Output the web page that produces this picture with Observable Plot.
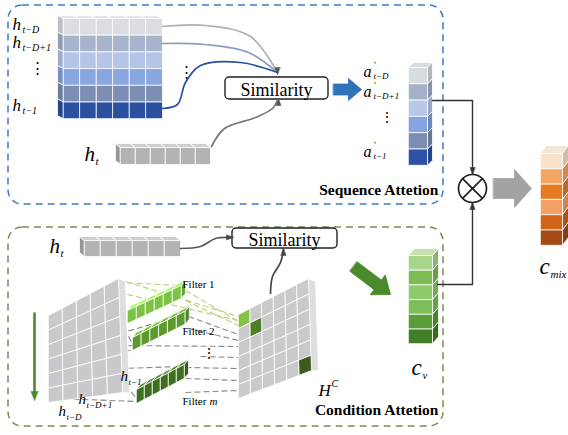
<!DOCTYPE html>
<html><head><meta charset="utf-8">
<script src="https://cdn.jsdelivr.net/npm/d3@7"></script>
<script src="https://cdn.jsdelivr.net/npm/@observablehq/plot@0.6"></script>
<style>
body{margin:0;background:#fff}
#chart{position:relative;width:568px;height:435px}
#chart svg{position:absolute;left:0;top:0}
</style>
</head><body><div id="chart"></div>
<script>
// ---- data ----
const seqRowColors = ["#dadde2","#a8b4cc","#b4c5e8","#88a6df","#7c8fb3","#2c50a0"];
const attnColors   = ["#d8dce0","#a4b0c8","#b8c8ea","#86a5e0","#7a8db2","#2d52a3"];
const condColors   = ["#a9d58b","#7cbd55","#8ec96c","#7cbf58","#5a9c36","#437e28"];
const mixColors    = ["#fae1cc","#f3a565","#e97a24","#f2a066","#d2641a","#a44a14"];
const filterColors = ["#7cc244","#5d9a2e","#3e6e20"];
const hcHighlights = ["#86c34a","#4f7f25","#3f5a1f"];
const seqSubs  = ["t−D","t−D+1","t−1"];
const attnSubs = ["t−D","t−D+1","t−1"];
const slabSubs = ["t−1","t−D+1","t−D"];
const filterNames = ["Filter 1","Filter 2","Filter"];
const titles = ["Sequence Attetion","Condition Attetion"];
const simLabel = "Similarity";

// ---- geometry helpers ----
const polys = [];
let pid = 0;
function P(pts, fill, stroke = "#ffffff") { polys.push({id: pid++, pts, fill, stroke}); }
const dk = (c, k = 0.6) => d3.color(c).darker(k).formatHex();
const lt = (c, k = 0.5) => d3.color(c).brighter(k).formatHex();

function column(x0, y0, w, h, colors, dx, dy, topFill) {
  P([[x0,y0],[x0+w,y0],[x0+w+dx,y0+dy],[x0+dx,y0+dy]], topFill || lt(colors[0],0.3));
  colors.forEach((c,i) => {
    const a = y0+i*h, b = a+h;
    const sx = dx > 0 ? x0+w : x0;
    P([[sx,a],[sx+dx,a+dy],[sx+dx,b+dy],[sx,b]], dk(c,0.5));
    P([[x0,a],[x0+w,a],[x0+w,b],[x0,b]], c);
  });
}
function matrix(x0, y0, cw, ch, ncol, colors, dx, dy) {
  for (let j=0;j<ncol;j++) {
    const x = x0+j*cw;
    P([[x,y0],[x+cw,y0],[x+cw+dx,y0+dy],[x+dx,y0+dy]], "#e3e4e7");
  }
  colors.forEach((c,i) => {
    const a = y0+i*ch, b = a+ch;
    P([[x0,a],[x0+dx,a+dy],[x0+dx,b+dy],[x0,b]], dk(c,0.4));
    for (let j=0;j<ncol;j++) {
      const x = x0+j*cw;
      P([[x,a],[x+cw,a],[x+cw,b],[x,b]], c);
    }
  });
}
function hvector(x0, y0, w, h, n, fill, dx, dy) {
  P([[x0,y0],[x0+dx,y0+dy],[x0+dx,y0+h+dy],[x0,y0+h]], dk(fill,0.5));
  for (let i=0;i<n;i++) {
    const x = x0+i*w;
    P([[x,y0],[x+w,y0],[x+w+dx,y0+dy],[x+dx,y0+dy]], lt(fill,0.4));
    P([[x,y0],[x+w,y0],[x+w,y0+h],[x,y0+h]], fill);
  }
}
function bil(c, u, v) {
  const [TL,TR,BR,BL] = c;
  const tx = TL[0]+(TR[0]-TL[0])*u, ty = TL[1]+(TR[1]-TL[1])*u;
  const bx = BL[0]+(BR[0]-BL[0])*u, by = BL[1]+(BR[1]-BL[1])*u;
  return [tx+(bx-tx)*v, ty+(by-ty)*v];
}
function skewGrid(c, ncol, nrow, fillFn, sideOff, sideFill) {
  const [TL,TR,BR,BL] = c;
  P([TR,[TR[0]+sideOff[0],TR[1]+sideOff[1]],[BR[0]+sideOff[0],BR[1]+sideOff[1]*0.2],BR], sideFill);
  for (let i=0;i<nrow;i++) for (let j=0;j<ncol;j++) {
    P([bil(c,j/ncol,i/nrow),bil(c,(j+1)/ncol,i/nrow),bil(c,(j+1)/ncol,(i+1)/nrow),bil(c,j/ncol,(i+1)/nrow)], fillFn(i,j));
  }
}
function rod(x0, y0, sx, sy, h, n, fill) {
  const ox = 4, oy = -5;
  for (let i=0;i<n;i++) {
    const x = x0+i*sx, y = y0+i*sy;
    P([[x,y],[x+sx,y+sy],[x+sx+ox,y+sy+oy],[x+ox,y+oy]], lt(fill,0.7));
    P([[x,y],[x+sx,y+sy],[x+sx,y+sy+h],[x,y+h]], fill);
  }
  const ex = x0+n*sx, ey = y0+n*sy;
  P([[ex,ey],[ex+ox,ey+oy],[ex+ox,ey+oy+h],[ex,ey+h]], dk(fill,0.5));
}
function blockArrow(x0,y0,x1,y1,bw,hw,hl,fill) {
  const L = Math.hypot(x1-x0,y1-y0), ux=(x1-x0)/L, uy=(y1-y0)/L, nx=-uy, ny=ux;
  const nkx = x1-ux*hl, nky = y1-uy*hl;
  P([[x0+nx*bw/2,y0+ny*bw/2],[nkx+nx*bw/2,nky+ny*bw/2],[nkx+nx*hw/2,nky+ny*hw/2],[x1,y1],
     [nkx-nx*hw/2,nky-ny*hw/2],[nkx-nx*bw/2,nky-ny*bw/2],[x0-nx*bw/2,y0-ny*bw/2]], fill, fill);
}
const heads = [];
function head(x,y,ang,fill,len=7,wid=5) {
  const ux=Math.cos(ang), uy=Math.sin(ang), nx=-uy, ny=ux;
  const bx=x-ux*len, by=y-uy*len;
  heads.push({id: heads.length, fill, pts:[[x,y],[bx+nx*wid/2,by+ny*wid/2],[bx-nx*wid/2,by-ny*wid/2]]});
}

// ---- build shapes ----
matrix(63, 18, 16.5, 16.7, 6, seqRowColors, -6, -3);
hvector(120, 147, 15, 17, 6, "#b3b3b3", -5, -4);
column(408, 67, 19, 16.3, attnColors, 5, -5, "#d9dcdf");
column(540, 153, 22, 15.3, mixColors, 6, -8, "#f5e6da");
hvector(84, 240, 16, 16, 6, "#b3b3b3", -5, -4);
skewGrid([[48,315],[118,278],[122,392],[48,402]], 5, 6, () => "#c9c9cb", [7,3], "#dedee0");
rod(127, 310, 9, -4.2, 13, 6, filterColors[0]);
rod(132, 337, 8.8, -4.4, 13, 6, filterColors[1]);
rod(136, 389, 8, -4.2, 14, 6, filterColors[2]);
skewGrid([[238,314],[308,278],[311,370],[238,398]], 6, 6, (i,j) =>
  (i===0&&j===0) ? hcHighlights[0] : (i===1&&j===1) ? hcHighlights[1] : (i===5&&j===5) ? hcHighlights[2] : "#cacacd",
  [7,3], "#dedee0");
column(408, 255, 24, 14.7, condColors, 6, -7, "#c4e2ae");
blockArrow(333, 89, 361, 89, 11, 22, 13, "#2e73b8");
blockArrow(493, 188, 531, 188, 20, 38, 17, "#a3a3a3");
blockArrow(353, 266, 390, 294, 12, 25, 16, "#4a8a2a");

const polyRows = polys.flatMap(p => p.pts.map(([x,y]) => ({id:p.id, x, y, fill:p.fill, stroke:p.stroke})));

// ---- curves / connectors ----
const curves = [
  {id:"a", s:"#b0b0b0", pts:[[162,26],[205,25],[250,36],[277,72]]},
  {id:"b", s:"#8c9cc0", pts:[[162,43],[205,44],[248,52],[277,72]]},
  {id:"c", s:"#2b4fa0", pts:[[162,108],[177,104],[185,82],[200,65],[240,62],[277,72]]},
  {id:"d", s:"#777777", pts:[[211,146],[224,128],[255,117],[272,108],[277,100]]},
  {id:"e", s:"#555555", pts:[[180,248],[200,246],[215,238],[231,237]]},
  {id:"f", s:"#444444", pts:[[270,293],[272,276],[280,262],[283,249]]}
];
const curveRows = curves.flatMap(c => c.pts.map(([x,y]) => ({id:c.id, s:c.s, x, y})));
const conns = [
  {id:"t", pts:[[432,100],[472,100],[472,173]]},
  {id:"b", pts:[[437,284],[472,284],[472,203]]},
  {id:"g", pts:[[34,313],[34,395]]}
];
const connRows = conns.flatMap(c => c.pts.map(([x,y]) => ({id:c.id, x, y, s: c.id==="g" ? "#4a8a2a" : "#333333", w: c.id==="g" ? 2.6 : 1.4})));
head(277,74,Math.PI/2,"#555"); head(278,98,-Math.PI/2,"#555");
head(233,237,0,"#444"); head(283,248,-Math.PI/2,"#444");
head(472,174,Math.PI/2,"#333"); head(472,202,-Math.PI/2,"#333");
head(34,400,Math.PI/2,"#4a8a2a",9,7);
const headRows = heads.flatMap(h => h.pts.map(([x,y]) => ({id:h.id, x, y, fill:h.fill})));

// dashed filter connections
const dashes = [
  {c:"#bccd74", a:[118,282], b:[181,285]}, {c:"#bccd74", a:[119,300], b:[128,316]},
  {c:"#bccd74", a:[125,281], b:[238,316]}, {c:"#bccd74", a:[185,290], b:[238,321]},
  {c:"#bccd74", a:[185,300], b:[238,325]}, {c:"#bccd74", a:[118,292], b:[238,320]},
  {c:"#8a8a8a", a:[119,320], b:[133,345]}, {c:"#8a8a8a", a:[119,333], b:[185,314]},
  {c:"#8a8a8a", a:[188,316], b:[238,334]}, {c:"#8a8a8a", a:[188,328], b:[238,340]},
  {c:"#8a8a8a", a:[70,350],  b:[133,350]}, {c:"#8a8a8a", a:[119,345], b:[238,346]},
  {c:"#8a8a8a", a:[119,378], b:[137,399]}, {c:"#8a8a8a", a:[119,368], b:[182,366]},
  {c:"#8a8a8a", a:[185,367], b:[238,368]}, {c:"#8a8a8a", a:[185,378], b:[238,380]},
  {c:"#8a8a8a", a:[185,392], b:[238,390]}, {c:"#8a8a8a", a:[55,398],  b:[137,401]},
  {c:"#8a8a8a", a:[200,356], b:[238,357]}
];

// ---- text ----
const ital = [
  {x:12,y:29,t:"h",s:17},{x:22,y:32,t:seqSubs[0],s:10},
  {x:12,y:47,t:"h",s:17},{x:22,y:50,t:seqSubs[1],s:10},
  {x:12,y:110,t:"h",s:17},{x:22,y:113,t:seqSubs[2],s:10},
  {x:84,y:160,t:"h",s:21},{x:95,y:164,t:"t",s:11},
  {x:363,y:76,t:"a",s:16},{x:373,y:78,t:attnSubs[0],s:9},{x:373,y:67,t:"′",s:9},
  {x:363,y:96,t:"a",s:16},{x:373,y:98,t:attnSubs[1],s:9},{x:373,y:87,t:"′",s:9},
  {x:363,y:156,t:"a",s:16},{x:373,y:158,t:attnSubs[2],s:9},{x:373,y:147,t:"′",s:9},
  {x:49,y:252,t:"h",s:21},{x:60,y:256,t:"t",s:11},
  {x:120,y:380,t:"h",s:15},{x:128,y:384,t:slabSubs[0],s:9},
  {x:78,y:403,t:"h",s:15},{x:86,y:407,t:slabSubs[1],s:9},
  {x:58,y:415,t:"h",s:15},{x:66,y:419,t:slabSubs[2],s:9},
  {x:318,y:395,t:"H",s:17},{x:331,y:386,t:"C",s:10},
  {x:411,y:374,t:"c",s:23},{x:422,y:378,t:"v",s:11},
  {x:539,y:273,t:"c",s:23},{x:550,y:277,t:"mix",s:11},
  {x:209,y:404,t:"m",s:11}
];
const plain = [
  {x:29,y:72,t:"⋮",s:15},{x:178,y:76,t:"⋮",s:15},{x:379,y:121,t:"⋮",s:14},{x:201,y:357,t:"⋮",s:14},
  {x:182,y:287,t:filterNames[0],s:11},{x:182,y:334,t:filterNames[1],s:11},{x:182,y:404,t:filterNames[2],s:11}
];

const serif = "Liberation Serif";
const frame = {
  width: 568, height: 435, margin: 0,
  x: {domain:[0,568], range:[0,568], axis:null},
  y: {domain:[0,435], range:[0,435], axis:null},
  color: {type:"identity"}
};
const shapes = Plot.plot({
  ...frame,
  marks: [
    Plot.rect([{x1:8,x2:443,y1:5,y2:204}], {x1:"x1",x2:"x2",y1:"y1",y2:"y2", fill:"none", stroke:"#3b7dc4", strokeWidth:1.5, strokeDasharray:"7,5", rx:14}),
    Plot.rect([{x1:8,x2:443,y1:227,y2:426}], {x1:"x1",x2:"x2",y1:"y1",y2:"y2", fill:"none", stroke:"#7f8b4e", strokeWidth:1.5, strokeDasharray:"7,5", rx:14}),
    Plot.link(dashes, {x1:d=>d.a[0], y1:d=>d.a[1], x2:d=>d.b[0], y2:d=>d.b[1], stroke:"c", strokeWidth:1.1, strokeDasharray:"6,3"}),
    Plot.line(polyRows, {x:"x", y:"y", z:"id", fill:"fill", stroke:"stroke", strokeWidth:0.8, curve:"linear-closed"}),
    Plot.rect([{x1:225,x2:328,y1:77,y2:99},{x1:232,x2:337,y1:228,y2:248}], {x1:"x1",x2:"x2",y1:"y1",y2:"y2", fill:"#fff", stroke:"#222", strokeWidth:1.4, rx:4}),
    Plot.line(curveRows, {x:"x", y:"y", z:"id", stroke:"s", strokeWidth:1.7, curve:"catmull-rom"}),
    Plot.line(connRows, {x:"x", y:"y", z:"id", stroke:"s", strokeWidth:"w"}),
    Plot.line(headRows, {x:"x", y:"y", z:"id", fill:"fill", stroke:"fill", strokeWidth:0.5, curve:"linear-closed"}),
    Plot.dot([{x:472,y:188}], {x:"x", y:"y", r:14, fill:"#fff", stroke:"#222", strokeWidth:1.7}),
    Plot.link([{a:-1,b:-1},{a:1,b:-1}], {x1:d=>472+d.a*9.9, y1:d=>188+d.b*9.9, x2:d=>472-d.a*9.9, y2:d=>188-d.b*9.9, stroke:"#222", strokeWidth:1.7})
  ]
});
const texts = Plot.plot({
  ...frame,
  style: {background: "transparent"},
  marks: [
    Plot.text([simLabel], {x:[276], y:[95], text:d=>d, fontSize:18, fontFamily:serif, lineAnchor:"bottom"}),
    Plot.text([simLabel], {x:[284], y:[245], text:d=>d, fontSize:18, fontFamily:serif, lineAnchor:"bottom"}),
    Plot.text(ital, {x:"x", y:"y", text:"t", fontSize:"s", fontFamily:serif, fontStyle:"italic", textAnchor:"start", lineAnchor:"bottom"}),
    Plot.text(plain, {x:"x", y:"y", text:"t", fontSize:"s", fontFamily:serif, textAnchor:"start", lineAnchor:"bottom"}),
    Plot.text(titles, {x:[438,438], y:[194,414], text:d=>d, fontSize:15.5, fontWeight:"bold", fontFamily:serif, textAnchor:"end", lineAnchor:"bottom"})
  ]
});
document.getElementById("chart").append(shapes, texts);
</script></body></html>
